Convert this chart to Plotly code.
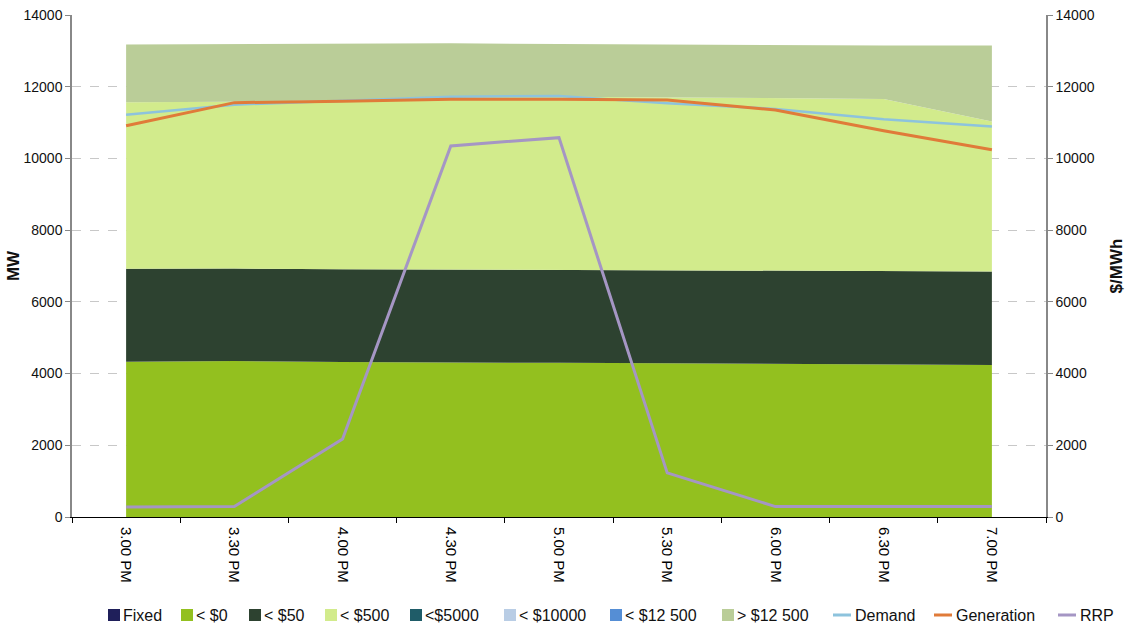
import plotly.graph_objects as go

# Half-hourly intervals
times = ["3.00 PM", "3.30 PM", "4.00 PM", "4.30 PM", "5.00 PM",
         "5.30 PM", "6.00 PM", "6.30 PM", "7.00 PM"]

# Offered capacity by price band (MW)
fixed = [0, 0, 0, 0, 0, 0, 0, 0, 0]
band_lt0 = [4330, 4350, 4320, 4320, 4300, 4290, 4280, 4260, 4240]
band_lt50 = [2590, 2580, 2590, 2580, 2570, 2570, 2570, 2590, 2610]
band_lt500 = [4650, 4650, 4710, 4800, 4850, 4840, 4850, 4810, 4180]
band_lt5000 = [0, 0, 0, 0, 0, 0, 0, 0, 0]
band_lt10000 = [0, 0, 0, 0, 0, 0, 0, 0, 0]
band_lt12500 = [0, 0, 0, 0, 0, 0, 0, 0, 0]
band_gt12500 = [1610, 1610, 1590, 1510, 1470, 1470, 1460, 1490, 2120]

# Demand and generation (MW), regional reference price ($/MWh)
demand = [11220, 11500, 11610, 11720, 11740, 11540, 11380, 11090, 10890]
generation = [10910, 11556, 11594, 11650, 11650, 11630, 11350, 10770, 10240]
rrp = [280, 290, 2175, 10350, 10580, 1230, 290, 290, 290]

# Axis tick values shared by both y axes
y_ticks = [0, 2000, 4000, 6000, 8000, 10000, 12000, 14000]

bands = [
    ("Fixed", fixed, "#1F1F5A"),
    ("< $0", band_lt0, "#93C01F"),
    ("< $50", band_lt50, "#2D4230"),
    ("< $500", band_lt500, "#D2EB8C"),
    ("<$5000", band_lt5000, "#1F5C68"),
    ("< $10000", band_lt10000, "#B9CDE5"),
    ("< $12 500", band_lt12500, "#558ED5"),
    ("> $12 500", band_gt12500, "#BACD98"),
]
lines = [
    ("Demand", demand, "#8DC3DD", 2.5, "y"),
    ("Generation", generation, "#E07B39", 3, "y"),
    ("RRP", rrp, "#A596C4", 3, "y2"),
]

W, H = 1132, 631
M_L, M_R, M_T, M_B = 72, 86, 15, 114
plot_w = W - M_L - M_R
plot_h = H - M_T - M_B


def px_to_paper(px, py):
    return (px - M_L) / plot_w, (H - M_B - py) / plot_h


fig = go.Figure()
for name, vals, color in bands:
    fig.add_trace(go.Scatter(
        x=times, y=vals, name=name, mode="lines",
        stackgroup="offers", line=dict(width=0, color=color),
        fillcolor=color, showlegend=False,
    ))
for name, vals, color, width, axis in lines:
    fig.add_trace(go.Scatter(x=times, y=vals, name=name, mode="lines",
                             yaxis=axis, showlegend=False,
                             line=dict(color=color, width=width)))

# Single-row key below the chart: swatch start x for each entry
key_x = [108, 181, 249, 325, 410, 504, 610, 722, 833, 934, 1058]
key_y = 615
font_family = "Liberation Sans, Arial, sans-serif"
entries = [(n, c, "box") for n, _, c in bands] + [(n, c, "line") for n, _, c, _, _ in lines]
shapes, annotations = [], []
for (name, color, kind), kx in zip(entries, key_x):
    if kind == "box":
        x0, y0 = px_to_paper(kx, key_y + 6)
        x1, y1 = px_to_paper(kx + 12, key_y - 6)
        shapes.append(dict(type="rect", xref="paper", yref="paper",
                           x0=x0, y0=y0, x1=x1, y1=y1,
                           fillcolor=color, line=dict(width=0)))
        tx = kx + 13
    else:
        x0, y0 = px_to_paper(kx, key_y)
        x1, _ = px_to_paper(kx + 18, key_y)
        shapes.append(dict(type="line", xref="paper", yref="paper",
                           x0=x0, y0=y0, x1=x1, y1=y0,
                           line=dict(color=color, width=3)))
        tx = kx + 20
    ax, ay = px_to_paper(tx, key_y)
    annotations.append(dict(text=name, xref="paper", yref="paper", x=ax, y=ay,
                            xanchor="left", yanchor="middle", showarrow=False,
                            font=dict(size=16, color="#111111", family=font_family)))

fig.update_layout(
    width=W, height=H,
    margin=dict(l=M_L, r=M_R, t=M_T, b=M_B),
    paper_bgcolor="white", plot_bgcolor="white",
    font=dict(family=font_family, size=14, color="#111111"),
    showlegend=False,
    shapes=shapes, annotations=annotations,
    xaxis=dict(
        type="category", range=[-0.5, 8.5], automargin=False,
        tickangle=90, tickson="boundaries", ticklabelstandoff=6,
        ticks="outside", ticklen=5, tickcolor="#000000",
        showline=True, linecolor="#000000", linewidth=1,
        showgrid=False, tickfont=dict(size=15, color="#000000"),
    ),
    yaxis=dict(
        title=dict(text="<b>MW</b>", font=dict(size=17), standoff=0),
        range=[0, 14000], tickvals=y_ticks, tickformat="d", automargin=False,
        ticks="outside", ticklen=5, tickcolor="#888888",
        showline=True, linecolor="#888888", linewidth=1.5,
        showgrid=True, gridcolor="#C8C8C8", griddash="dash", gridwidth=1,
        zeroline=False, tickfont=dict(size=14),
    ),
    yaxis2=dict(
        title=dict(text="<b>$/MWh</b>", font=dict(size=17), standoff=16),
        overlaying="y", side="right", automargin=False,
        range=[0, 14000], tickvals=y_ticks, tickformat="d",
        ticks="outside", ticklen=5, tickcolor="#888888",
        showline=True, linecolor="#888888", linewidth=1.5,
        showgrid=False, zeroline=False, tickfont=dict(size=14),
    ),
)

fig.write_html("out.html")
